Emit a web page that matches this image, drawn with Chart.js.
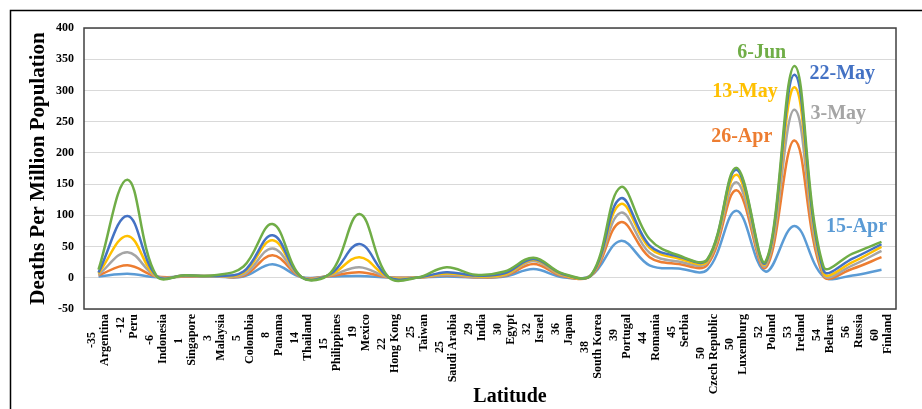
<!DOCTYPE html>
<html>
<head>
<meta charset="utf-8">
<script src="https://cdn.jsdelivr.net/npm/chart.js@4/dist/chart.umd.min.js"></script>
<style>
  html, body { margin: 0; padding: 0; background: #fff; }
  #wrap { width: 922px; height: 409px; }
</style>
</head>
<body>
<div id="wrap"><canvas id="chart" width="922" height="409"></canvas></div>
<script>
// data
const latitudes = [-35, -12, -6, 1, 3, 5, 8, 14, 15, 19, 22, 25, 25, 29, 30, 32, 36, 38, 39, 44, 45, 50, 50, 52, 53, 54, 56, 60];
const countries = ['Argentina', 'Peru', 'Indonesia', 'Singapore', 'Malaysia', 'Colombia', 'Panama', 'Thailand',
  'Philippines', 'Mexico', 'Hong Kong', 'Taiwan', 'Saudi Arabia', 'India', 'Egypt', 'Israel', 'Japan',
  'South Korea', 'Portugal', 'Romania', 'Serbia', 'Czech Republic', 'Luxemburg', 'Poland', 'Ireland',
  'Belarus', 'Russia', 'Finland'];

const apr15 = [2, 6.5, 1, 2, 2, 2, 21.5, 1, 2, 3, 0.5, 0.3, 2, 0.5, 2, 14, 1, 4, 59, 20, 15, 13, 107.5, 10, 83, 2, 3.7, 12.9];
const apr26 = [4, 20, 2, 2, 3, 3, 36, 1, 3, 9, 1, 0.3, 4, 1, 3, 22, 3, 4, 89, 33, 22, 21, 140, 16, 220, 3, 14.5, 33];
const may3 = [5, 41, 2, 3, 3, 5, 47, 1, 4, 17, 1, 0.3, 5, 1.5, 4, 27, 4, 5, 104, 40, 26, 25, 153, 19, 269, 5, 20, 43];
const may13 = [7, 67, 2, 4, 3, 8, 60, 1, 5, 33, 1, 0.3, 7, 2.5, 5, 29, 5, 5, 118, 48, 31, 27, 165, 22, 305, 8, 25, 49.5];
const may22 = [8.5, 99, 3, 4, 3, 10, 68, 1, 6, 54, 1, 0.3, 9, 3.5, 7, 30, 6, 5, 127, 52, 34, 29, 173, 24, 325, 12, 30.6, 53.7];
const jun6 = [13, 157, 3, 4, 4, 18, 86, 1, 8, 102, 1, 0.3, 17, 5, 10, 32, 7, 5, 145, 62, 36, 30, 176, 26, 339, 18, 38.7, 57.4];

const seriesNames = ['15-Apr', '26-Apr', '3-May', '13-May', '22-May', '6-Jun'];
const seriesColors = ['#5B9BD5', '#ED7D31', '#A5A5A5', '#FFC000', '#4472C4', '#70AD47'];
const seriesValues = [apr15, apr26, may3, may13, may22, jun6];

const yMin = -50, yMax = 400, yStep = 50;

// where the series names sit: [category index, value]
const nameSpots = [[26.14, 81], [22.18, 226], [25.51, 263], [22.29, 297], [25.65, 326], [22.87, 361]];

const serif = '"Liberation Serif", "Times New Roman", serif';

// two-line tick labels, shorter line padded so both lines are centred
const measureCtx = document.createElement('canvas').getContext('2d');
measureCtx.font = 'bold 12px ' + serif;
const spaceW = measureCtx.measureText(' ').width;
const tickLabels = latitudes.map((lat, i) => {
  const lines = [String(lat), countries[i]];
  const widths = lines.map(l => measureCtx.measureText(l).width);
  const maxW = Math.max(...widths);
  return lines.map((l, k) => l + ' '.repeat(Math.round((maxW - widths[k]) / 2 / spaceW)));
});

const framePlugin = {
  id: 'frame',
  afterDraw(chart) {
    const ctx = chart.ctx;
    const a = chart.chartArea;
    ctx.save();
    ctx.strokeStyle = '#404040';
    ctx.lineWidth = 1.5;
    ctx.strokeRect(a.left, a.top, a.right - a.left, a.bottom - a.top);
    ctx.strokeStyle = '#000';
    ctx.lineWidth = 1.5;
    ctx.beginPath();
    ctx.moveTo(10.5, chart.height);
    ctx.lineTo(10.5, 10.5);
    ctx.lineTo(chart.width, 10.5);
    ctx.stroke();
    ctx.restore();
  },
  afterDatasetsDraw(chart) {
    const ctx = chart.ctx;
    const xs = chart.scales.x, ys = chart.scales.y;
    ctx.save();
    ctx.font = 'bold 20px ' + serif;
    ctx.textAlign = 'center';
    ctx.textBaseline = 'middle';
    seriesNames.forEach((name, i) => {
      ctx.fillStyle = seriesColors[i];
      ctx.fillText(name, xs.getPixelForValue(nameSpots[i][0]), ys.getPixelForValue(nameSpots[i][1]));
    });
    ctx.restore();
  }
};

const datasets = seriesNames.map((name, i) => ({
  label: name,
  data: seriesValues[i],
  borderColor: seriesColors[i],
  backgroundColor: seriesColors[i],
  borderWidth: 2.5,
  pointRadius: 0,
  tension: 0.38,
  fill: false,
  order: seriesNames.length - i
}));

new Chart(document.getElementById('chart').getContext('2d'), {
  type: 'line',
  data: { labels: tickLabels, datasets: datasets },
  options: {
    responsive: false,
    animation: false,
    devicePixelRatio: 1,
    layout: { padding: { top: 28, right: 26, left: 0, bottom: 0 } },
    plugins: {
      legend: { display: false },
      tooltip: { enabled: false }
    },
    scales: {
      x: {
        offset: true,
        grid: { display: false, drawTicks: false, offset: true },
        border: { display: false },
        ticks: {
          autoSkip: false,
          minRotation: 90,
          maxRotation: 90,
          padding: 5,
          labelOffset: -7,
          color: '#000',
          font: { family: serif, size: 12, weight: 'bold', lineHeight: 1.12 }
        },
        title: {
          display: true,
          text: '        Latitude',
          color: '#000',
          padding: { top: 0, bottom: 0 },
          font: { family: serif, size: 20, weight: 'bold' }
        },
        afterFit(scale) { scale.height = 100; }
      },
      y: {
        min: yMin,
        max: yMax,
        grid: { color: '#d9d9d9', lineWidth: 1, drawTicks: false },
        border: { display: false },
        ticks: {
          stepSize: yStep,
          padding: 10,
          color: '#000',
          font: { family: serif, size: 12, weight: 'bold' }
        },
        title: {
          display: true,
          text: 'Deaths Per Million Population',
          color: '#000',
          padding: { top: 26, bottom: 0 },
          font: { family: serif, size: 21, weight: 'bold' }
        },
        afterFit(scale) { scale.width = 84; }
      }
    }
  },
  plugins: [framePlugin]
});
</script>
</body>
</html>
